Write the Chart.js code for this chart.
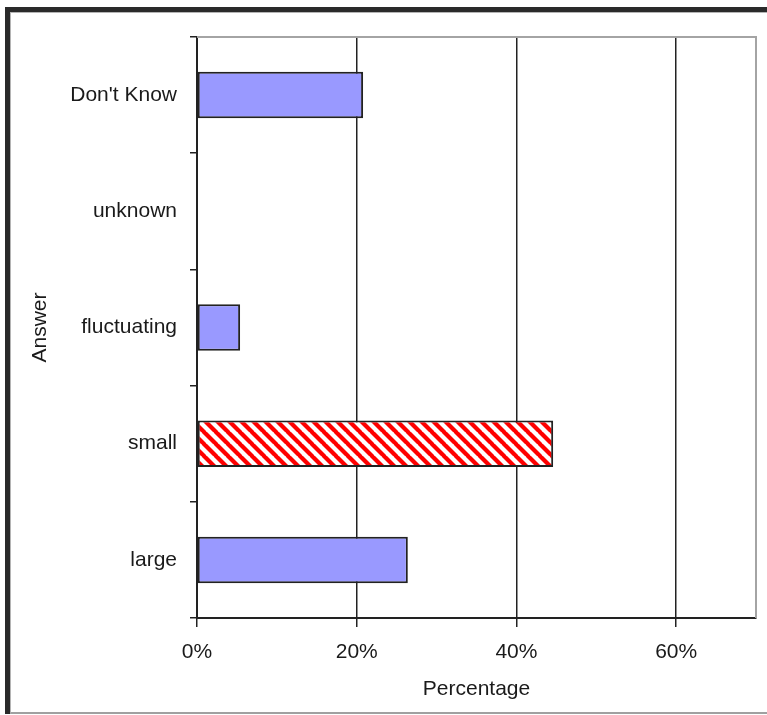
<!DOCTYPE html>
<html>
<head>
<meta charset="utf-8">
<script src="https://cdn.jsdelivr.net/npm/chart.js@4/dist/chart.umd.min.js"></script>
<style>
  html, body { margin: 0; padding: 0; background: #fff; }
  #wrap { position: relative; width: 767px; height: 715px; overflow: hidden; }
  #frame {
    position: absolute; left: 5px; top: 7px; width: 762px; height: 707px;
    box-sizing: border-box;
    border-left: 5px solid #2a2a2a; border-top: 5px solid #2a2a2a;
  }
  #frame div {
    width: 100%; height: 100%; box-sizing: border-box;
    border-left: 1px solid #b4b4b4; border-top: 1px solid #b4b4b4;
    border-bottom: 2px solid #a0a0a0;
  }
  canvas { position: absolute; left: 0; top: 0; }
</style>
</head>
<body>
<div id="wrap">
  <div id="frame"><div></div></div>
  <canvas id="answers" width="767" height="715"></canvas>
</div>
<script>
const answers = ["Don't Know", "unknown", "fluctuating", "small", "large"];
const percentages = [20.8, 0, 5.4, 44.6, 26.4];
const xTicks = [0, 20, 40, 60];
const highlighted = "small";

// red diagonal hatch for the highlighted answer
function hatch() {
  const p = 12;
  const c = document.createElement('canvas');
  c.width = p; c.height = p;
  const g = c.getContext('2d');
  g.fillStyle = '#fff';
  g.fillRect(0, 0, p, p);
  g.strokeStyle = '#ff0000';
  g.lineWidth = 4.2;
  for (const o of [-p, 0, p]) {
    g.beginPath();
    g.moveTo(o - 1, -1);
    g.lineTo(o + p + 1, p + 1);
    g.stroke();
  }
  return g.createPattern(c, 'repeat');
}

const ctx = document.getElementById('answers').getContext('2d');
const fills = answers.map(a => a === highlighted ? hatch() : '#9999ff');

// gray top and right edge of the plot
const plotEdge = {
  id: 'plotEdge',
  beforeDatasetsDraw(chart) {
    const { ctx, chartArea: a } = chart;
    ctx.save();
    ctx.strokeStyle = '#a4a4a4';
    ctx.lineWidth = 2;
    ctx.beginPath();
    ctx.moveTo(a.left, a.top);
    ctx.lineTo(a.right, a.top);
    ctx.lineTo(a.right, a.bottom);
    ctx.stroke();
    ctx.restore();
  }
};

Chart.defaults.font.family = '"Liberation Sans", Arial, sans-serif';
Chart.defaults.font.size = 21;
Chart.defaults.color = '#1a1a1a';

new Chart(ctx, {
  type: 'bar',
  data: {
    labels: answers,
    datasets: [{
      label: 'Percentage',
      data: percentages,
      backgroundColor: fills,
      borderColor: '#222',
      borderWidth: 2,
      borderSkipped: false,
      categoryPercentage: 0.4,
      barPercentage: 1
    }]
  },
  options: {
    indexAxis: 'y',
    responsive: false,
    animation: false,
    layout: { padding: { left: 12, top: 37, right: 11, bottom: 0 } },
    plugins: {
      legend: { display: false },
      tooltip: { enabled: false }
    },
    scales: {
      x: {
        min: 0,
        max: 70,
        afterBuildTicks: scale => { scale.ticks = xTicks.map(v => ({ value: v })); },
        afterFit: scale => { scale.height = 97; },
        ticks: { callback: v => v + '%', padding: 13 },
        grid: { color: '#222', lineWidth: 1.5, tickLength: 9, tickColor: '#222' },
        border: { color: '#222', width: 2 },
        title: { display: true, text: 'Percentage', padding: { top: 0, bottom: 13 } }
      },
      y: {
        afterFit: scale => { scale.width = 185; },
        ticks: { padding: 13 },
        grid: { drawOnChartArea: false, tickLength: 7, color: '#222', lineWidth: 1.5, offset: true },
        border: { color: '#222', width: 2 },
        title: { display: true, text: 'Answer', padding: { top: 16, bottom: 0 } }
      }
    }
  },
  plugins: [plotEdge]
});
</script>
</body>
</html>
